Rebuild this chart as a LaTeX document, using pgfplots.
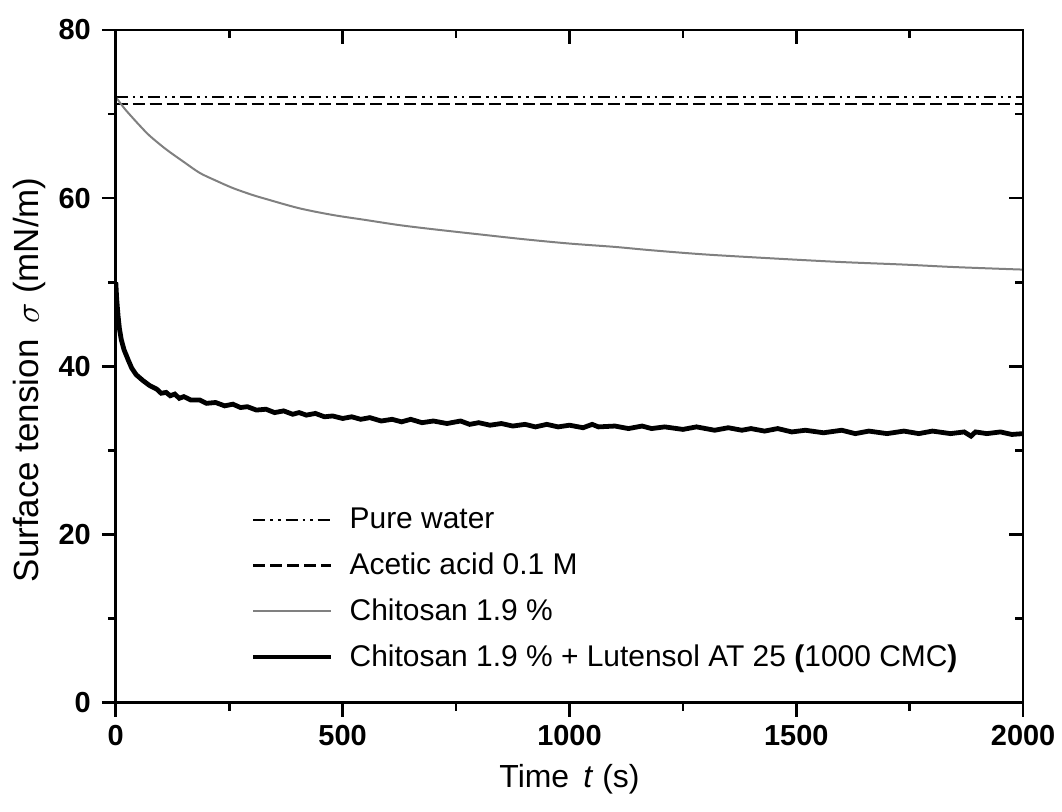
\documentclass[border=0pt]{standalone}
\usepackage{pgfplots}
\pgfplotsset{compat=1.18}
\usepackage{fontspec}
\setmainfont{Liberation Sans}

\definecolor{chitgray}{RGB}{128,128,128}

\pgfplotsset{
  frame/.style={
    scale only axis,
    width=454.5pt, height=337pt,
    xmin=0, xmax=2000, ymin=0, ymax=80,
    xtick={0,500,...,2000}, ytick={0,20,...,80},
    minor x tick num=1, minor y tick num=1,
    axis line style={line width=1.3pt},
    major tick length=7pt, minor tick length=4pt,
    every tick/.style={black, line width=1.3pt},
  },
}

\begin{document}
\begin{tikzpicture}
\begin{axis}[
  frame,
  name=ax,
  tick align=outside,
  xtick pos=bottom, ytick pos=left,
  /pgf/number format/assume math mode=true,
  /pgf/number format/set thousands separator={},
  ticklabel style={font=\bfseries\fontsize{14.5}{14.5}\selectfont},
  xticklabel style={yshift=-1pt},
  yticklabel style={xshift=-2pt},
  xlabel={Time \,\textit{t} (s)},
  ylabel={Surface tension \,$\sigma$ (mN/m)},
  every axis x label/.style={at={(rel axis cs:0.5,0)}, anchor=center,
    yshift=-38.5pt, font=\fontsize{16}{16}\selectfont},
  every axis y label/.style={at={(rel axis cs:0,0.48)}, anchor=center,
    xshift=-43pt, rotate=90, font=\fontsize{17.5}{17.5}\selectfont},
  legend style={at={(rel axis cs:0.142,0.04)}, anchor=south west, draw=none, fill=none,
    font=\fontsize{15}{15}\selectfont, row sep=8.6pt,
    nodes={inner sep=1pt}},
  legend cell align=left,
  legend image code/.code={\draw[#1] (0pt,0pt) -- (39pt,0pt); \path (46pt,0pt);},
]
% pure water
\addplot[black, line width=1.2pt,
  dash pattern=on 6pt off 2.5pt on 1.3pt off 2.5pt on 1.3pt off 2.5pt]
  coordinates {(0,72.0) (2000,72.0)};
\addlegendentry{Pure water}
% acetic acid
\addplot[black, line width=1.2pt, dash pattern=on 6pt off 2.5pt]
  coordinates {(0,71.2) (2000,71.2)};
\addlegendentry{Acetic acid 0.1 M}
% chitosan
\addplot[chitgray, line width=1pt, smooth] coordinates {
  (0,72.0) (10,71.3) (20,70.6) (38,69.5) (55,68.5) (75,67.4)
  (111,65.8) (150,64.3) (185,63.0) (220,62.1) (258,61.2) (300,60.4)
  (331,59.9) (404,58.8) (478,58.0) (551,57.4) (624,56.8) (700,56.3)
  (800,55.7) (902,55.1) (1000,54.6) (1100,54.2) (1181,53.8) (1300,53.3)
  (1459,52.8) (1600,52.4) (1737,52.1) (1850,51.8) (2000,51.5)
};
\addlegendentry{Chitosan 1.9 \%}
% chitosan + lutensol
\addplot[black, line width=2.4pt] coordinates {
  (0,50.0) (2,48.0) (5,46.0) (8,44.5) (12,43.2) (18,42.0) (27,40.8)
  (35,39.8) (45,39.0) (60,38.3) (75,37.7) (90,37.3) (100,36.8) (111,36.9)
  (120,36.5) (130,36.7) (140,36.2) (150,36.4) (165,36.0) (185,36.0)
  (200,35.6) (220,35.7) (240,35.3) (258,35.5) (275,35.1) (290,35.2)
  (310,34.8) (331,34.9) (350,34.5) (370,34.7) (390,34.3) (404,34.5)
  (420,34.2) (440,34.4) (460,34.0) (478,34.1) (500,33.8) (520,34.0)
  (540,33.7) (560,33.9) (585,33.5) (609,33.7) (630,33.4) (650,33.7)
  (675,33.3) (700,33.5) (730,33.2) (760,33.5) (780,33.1) (800,33.3)
  (825,33.0) (850,33.2) (875,32.9) (902,33.1) (925,32.8) (950,33.1)
  (975,32.8) (1000,33.0) (1030,32.7) (1050,33.1) (1064,32.8) (1100,32.9)
  (1130,32.6) (1160,32.9) (1181,32.6) (1210,32.8) (1250,32.5) (1280,32.8)
  (1320,32.4) (1350,32.7) (1380,32.4) (1400,32.6) (1430,32.3) (1459,32.6)
  (1490,32.2) (1520,32.4) (1560,32.1) (1600,32.4) (1630,32.0) (1660,32.3)
  (1700,32.0) (1737,32.3) (1770,32.0) (1800,32.3) (1840,32.0) (1870,32.2)
  (1885,31.7) (1895,32.2) (1920,32.0) (1950,32.2) (1975,31.9) (2000,32.0)
};
\addlegendentry{Chitosan 1.9 \% + Lutensol AT 25 \textbf{(}1000 CMC\textbf{)}}
\end{axis}
\begin{axis}[
  frame,
  tick align=inside,
  xtick pos=top, ytick pos=right,
  xticklabels={}, yticklabels={},
]
\end{axis}
\path ([shift={(-58pt,-54.5pt)}]ax.south west) rectangle ([shift={(18.5pt,15pt)}]ax.north east);
\end{tikzpicture}
\end{document}
